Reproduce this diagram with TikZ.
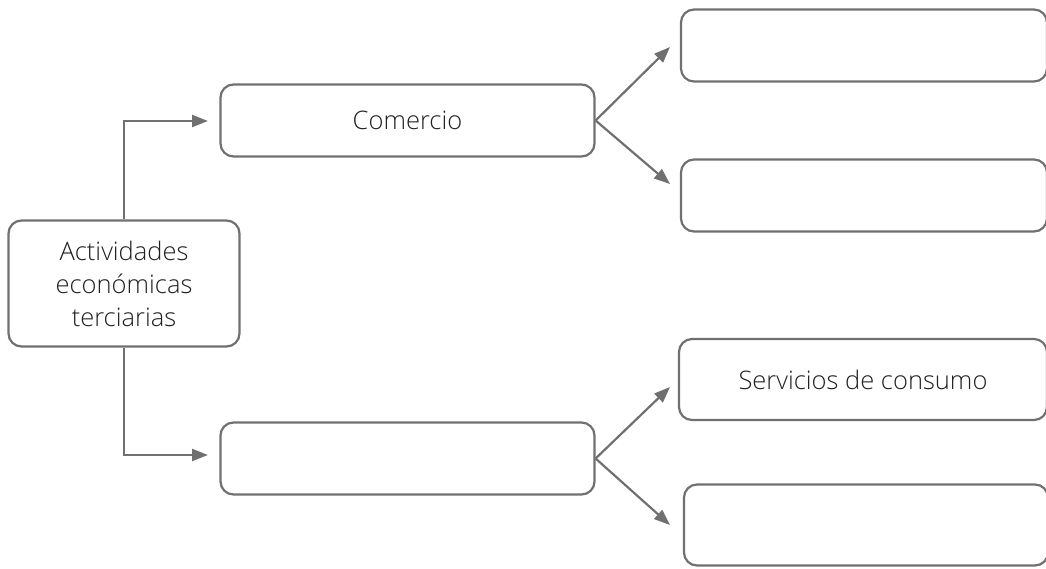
\documentclass[tikz,border=0pt]{standalone}
\usepackage{fontspec}
\setmainfont{Open Sans Light}
\usetikzlibrary{arrows.meta}
\definecolor{linegray}{RGB}{112,112,112}
\definecolor{textgray}{RGB}{35,31,32}
\tikzset{
  box/.style={draw=linegray, line width=2.2pt, rounded corners=13pt, inner sep=0pt,
    align=center, text=textgray, font=\fontsize{25.5}{33}\selectfont},
  conn/.style={draw=linegray, line width=2.2pt, -{Triangle[length=16pt,width=12pt]}}
}
\begin{document}
\begin{tikzpicture}[x=1pt,y=-1pt]
\useasboundingbox (0,0) rectangle (1046,568);
\node[box, minimum width=231pt, minimum height=126pt] (root) at (124,283.5) {Actividades\\económicas\\terciarias};
\node[box, minimum width=374pt, minimum height=72pt] (com) at (407.5,120.5) {Comercio};
\node[box, minimum width=374pt, minimum height=72pt] (ser) at (407.5,458.5) {};
\node[box, minimum width=366pt, minimum height=72pt] (r1) at (864,45.5) {};
\node[box, minimum width=366pt, minimum height=72pt] (r2) at (864,195.5) {};
\node[box, minimum width=368pt, minimum height=81pt] (r3) at (863,379.5) {Servicios de consumo};
\node[box, minimum width=364pt, minimum height=81pt] (r4) at (866,525) {};
\coordinate (ta) at (208,121);
\coordinate (tb) at (208,455);
\coordinate (t1) at (670,47);
\coordinate (t2) at (670,184);
\coordinate (t3) at (670,387);
\coordinate (t4) at (670,525);
\draw[conn] (root.north) |- (ta);
\draw[conn] (root.south) |- (tb);
\draw[conn] (com.east) -- (t1);
\draw[conn] (com.east) -- (t2);
\draw[conn] (ser.east) -- (t3);
\draw[conn] (ser.east) -- (t4);
\end{tikzpicture}
\end{document}
